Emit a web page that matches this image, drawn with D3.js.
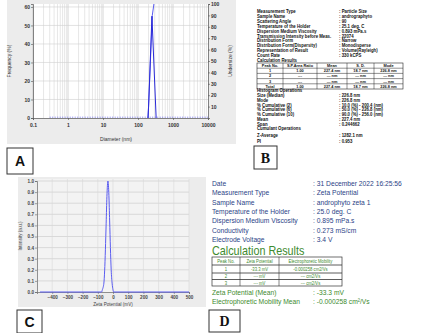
<!DOCTYPE html>
<html>
<head>
<meta charset="utf-8">
<script src="https://cdn.jsdelivr.net/npm/d3@7"></script>
<style>
  body { margin: 0; background: #fff; }
  svg { display: block; }
  text { font-family: "Liberation Sans", Arial, sans-serif; }
</style>
</head>
<body>
<script>
// ---- panel A : particle size distribution ----
var sizeTicks = [0.1, 1, 10, 100, 1000, 10000];
var sizeTickLabels = ["0.1", "1", "10", "100", "1000", "10000"];
var freqTicks = [0, 10, 20, 30, 40, 50, 60];
var underTicks = [10, 20, 30, 40, 50, 60, 70, 80, 90, 100];
var freqSize = [195, 250, 330];
var freqValue = [0, 55, 0];
var cumSize = [190, 200.4, 226.8, 256, 285];
var cumValue = [0, 10, 50, 90, 100];
var zeroBins = [0.3, 0.5, 1, 2, 5, 10, 20, 50, 100, 180, 400, 1000, 2000, 5000, 10000];

// ---- panel B : particle size report ----
var infoB = [
  ["Measurement Type", "Particle Size"],
  ["Sample Name", "andrographyto"],
  ["Scattering Angle", "90"],
  ["Temperature of the Holder", "25.1 deg. C"],
  ["Dispersion Medium Viscosity", "0.893 mPa.s"],
  ["Transmission Intensity before Meas.", "22074"],
  ["Distribution Form", "Narrow"],
  ["Distribution Form(Dispersity)", "Monodisperse"],
  ["Representation of Result", "Volume(Rayleigh)"],
  ["Count Rate", "330 kCPS"]
];
var tableBHead = ["Peak No.", "S.P.Area Ratio", "Mean", "S. D.", "Mode"];
var tableBRows = [
  ["1", "1.00", "227.4 nm", "18.7 nm", "226.8 nm"],
  ["2", "---", "--- nm", "--- nm", "--- nm"],
  ["3", "---", "--- nm", "--- nm", "--- nm"],
  ["Total", "1.00", "227.4 nm", "18.7 nm", "226.8 nm"]
];
var histB = [
  ["Size (Median)", "226.8 nm"],
  ["Mode", "226.8 nm"],
  ["% Cumulative (2)", "10.0 (%) - 200.4 (nm)"],
  ["% Cumulative (6)", "50.0 (%) - 226.8 (nm)"],
  ["% Cumulative (10)", "90.0 (%) - 256.0 (nm)"],
  ["Mean", "227.4 nm"],
  ["Span", "0.244662"]
];
var cumulantB = [
  ["Z-Average", "1282.1 nm"],
  ["PI", "0.953"]
];

// ---- panel C : zeta potential distribution ----
var zetaTicks = [-400, -300, -200, -100, 0, 100, 200, 300, 400, 500];
var intensityTicks = [0, 0.1, 0.2, 0.3, 0.4, 0.5, 0.6, 0.7, 0.8, 0.9, 1.0];
var zetaX = [-480, -75, -70, -60, -55, -50, -45, -40, -33.3, -27, -22, -17, -12, -6, 0, 5, 500];
var zetaY = [0, 0, 0.02, 0.08, 0.19, 0.38, 0.62, 0.86, 1.0, 0.87, 0.64, 0.40, 0.20, 0.08, 0.02, 0, 0];

// ---- panel D : zeta report ----
var infoD = [
  ["Date", "31 December 2022 16:25:56"],
  ["Measurement Type", "Zeta Potential"],
  ["Sample Name", "androphyto zeta 1"],
  ["Temperature of the Holder", "25.0 deg. C"],
  ["Dispersion Medium Viscosity", "0.895 mPa.s"],
  ["Conductivity", "0.273 mS/cm"],
  ["Electrode Voltage", "3.4 V"]
];
var tableDHead = ["Peak No.", "Zeta Potential", "Electrophoretic Mobility"];
var tableDRows = [
  ["1", "-33.3 mV", "-0.000258 cm2/Vs"],
  ["2", "--- mV", "--- cm2/Vs"],
  ["3", "--- mV", "--- cm2/Vs"]
];
var meanD = [
  ["Zeta Potential (Mean)", "-33.3 mV"],
  ["Electrophoretic Mobility Mean", "-0.000258 cm\u00b2/Vs"]
];

var W = 438, H = 333;
var svg = d3.select("body").append("svg").attr("width", W).attr("height", H);

var lineBlue = "#5a5cf0", darkBlue = "#2a2ad8";
var green = "#3d8a2e", navy = "#2b3f86";

// text squeezed horizontally (the report fonts are narrow)
function sqText(g, x, y, sx, fs, color, str, anchor) {
  return g.append("text").attr("transform", "translate(" + x + "," + y + ") scale(" + sx + ",1)")
    .attr("font-size", fs).attr("fill", color).attr("text-anchor", anchor || "start").text(str);
}

/////////////// panel A
svg.append("rect").attr("x", 7).attr("y", 0).attr("width", 229).attr("height", 144).attr("fill", "#ececec");

var xA = d3.scaleLog().domain([0.1, 10000]).range([33, 208]);
var yL = d3.scaleLinear().domain([0, 61.6]).range([118, 4]);
var yR = d3.scaleLinear().domain([0, 100]).range([118, 4]);

var gA = svg.append("g");
gA.append("rect").attr("x", 33).attr("y", 4).attr("width", 175).attr("height", 114).attr("fill", "#fff");

// minor and major vertical grid
var minorA = [];
for (var e = -1; e < 4; e++) {
  for (var m = 1; m < 10; m++) minorA.push(m * Math.pow(10, e));
}
gA.selectAll(".vgrid").data(minorA).enter().append("line")
  .attr("x1", function(d) { return xA(d); }).attr("x2", function(d) { return xA(d); })
  .attr("y1", 4).attr("y2", 118)
  .attr("stroke", function(d, i) { return i % 9 == 0 ? "#b8b8b8" : "#d6d6d6"; })
  .attr("stroke-width", 0.6);
gA.selectAll(".hgrid").data(freqTicks.slice(1)).enter().append("line")
  .attr("x1", 33).attr("x2", 208)
  .attr("y1", function(d) { return yL(d); }).attr("y2", function(d) { return yL(d); })
  .attr("stroke", "#d0d0d0").attr("stroke-width", 0.6);

// axes
var axL = d3.axisLeft(yL).tickValues(freqTicks).tickSize(2).tickPadding(1);
var axR = d3.axisRight(yR).tickValues(underTicks).tickSize(2).tickPadding(1);
var axB = d3.axisBottom(xA).tickValues(sizeTicks).tickSize(2).tickPadding(3)
  .tickFormat(function(d, i) { return sizeTickLabels[i]; });
[[axL, "translate(33,0)"], [axR, "translate(208,0)"], [axB, "translate(0,118)"]].forEach(function(p) {
  var g = gA.append("g").attr("transform", p[1]).call(p[0]);
  g.select(".domain").attr("stroke", "#555").attr("stroke-width", 0.7);
  g.selectAll(".tick line").attr("stroke", "#555").attr("stroke-width", 0.6);
  g.selectAll("text").attr("font-size", 5).attr("font-weight", "bold").attr("fill", "#333")
    .style("font-family", "Liberation Sans");
});

// lines
var lineA = d3.line().x(function(d) { return xA(d[0]); }).y(function(d) { return d[1]; });
gA.append("path")
  .attr("d", lineA(zeroBins.map(function(s) { return [s, yL(0) - 0.8]; })))
  .attr("fill", "none").attr("stroke", lineBlue).attr("stroke-width", 0.8).attr("stroke-dasharray", "1,1.5");
gA.append("path")
  .attr("d", lineA(cumSize.map(function(s, i) { return [s, yR(cumValue[i])]; })))
  .attr("fill", "none").attr("stroke", lineBlue).attr("stroke-width", 1);
gA.append("path")
  .attr("d", lineA(freqSize.map(function(s, i) { return [s, yL(freqValue[i])]; })))
  .attr("fill", "none").attr("stroke", darkBlue).attr("stroke-width", 1);

gA.append("text").attr("transform", "translate(11,61) rotate(-90)").attr("text-anchor", "middle")
  .attr("font-size", 5).attr("fill", "#333").text("Frequency (%)");
gA.append("text").attr("transform", "translate(232,61) rotate(-90)").attr("text-anchor", "middle")
  .attr("font-size", 5).attr("fill", "#333").text("Undersize (%)");
gA.append("text").attr("x", 116).attr("y", 141).attr("text-anchor", "middle")
  .attr("font-size", 5).attr("fill", "#333").text("Diameter (nm)");

/////////////// panel B
var gB = svg.append("g").style("font-weight", "bold");
var fsB = 4.9, sxB = 0.88, labX = 257, colX = 339;
function infoRows(g, rows, y0, step, fs, sx, lx, cx, color) {
  rows.forEach(function(r, i) {
    sqText(g, lx, y0 + i * step, sx, fs, color, r[0]);
    sqText(g, cx, y0 + i * step, sx, fs, color, ":  " + r[1]);
  });
}
infoRows(gB, infoB, 13, 4.9, fsB, sxB, labX, colX, "#111");
sqText(gB, labX, 62, sxB, fsB, "#111", "Calculation Results");

var colB = [257, 283, 317, 347, 374, 403];
var rowH = 5.2, tB0 = 63;
var tb = gB.append("g");
var allB = [tableBHead].concat(tableBRows);
tb.append("rect").attr("x", colB[0]).attr("y", tB0).attr("width", colB[5] - colB[0]).attr("height", rowH * allB.length)
  .attr("fill", "none").attr("stroke", "#222").attr("stroke-width", 0.6);
allB.forEach(function(r, i) {
  if (i > 0) tb.append("line").attr("x1", colB[0]).attr("x2", colB[5]).attr("y1", tB0 + i * rowH).attr("y2", tB0 + i * rowH)
    .attr("stroke", "#222").attr("stroke-width", 0.5);
  r.forEach(function(c, j) {
    sqText(tb, (colB[j] + colB[j + 1]) / 2, tB0 + i * rowH + 4, 0.9, 4.3, "#111", c, "middle");
  });
});
colB.slice(1, 5).forEach(function(x) {
  tb.append("line").attr("x1", x).attr("x2", x).attr("y1", tB0).attr("y2", tB0 + rowH * allB.length)
    .attr("stroke", "#222").attr("stroke-width", 0.5);
});
sqText(gB, labX, 92, sxB, fsB, "#111", "Histogram Operations");
infoRows(gB, histB, 97, 4.75, fsB, sxB, labX, colX, "#111");
sqText(gB, labX, 130, sxB, fsB, "#111", "Cumulant Operations");
infoRows(gB, cumulantB, 137, 5.5, fsB, sxB, labX, colX, "#111");

/////////////// panel C
svg.append("rect").attr("x", 18).attr("y", 177).attr("width", 188).attr("height", 130).attr("fill", "#ececec");
var xC = d3.scaleLinear().domain([-500, 500]).range([37, 189]);
var yC = d3.scaleLinear().domain([0, 1]).range([292, 181]);
var gC = svg.append("g");
gC.append("rect").attr("x", 37).attr("y", 179).attr("width", 152).attr("height", 113).attr("fill", "#f3f3f3");
gC.selectAll(".hg").data(intensityTicks.slice(1)).enter().append("line")
  .attr("x1", 37).attr("x2", 189).attr("y1", function(d) { return yC(d); }).attr("y2", function(d) { return yC(d); })
  .attr("stroke", "#d2d2d2").attr("stroke-width", 0.8);
gC.selectAll(".vg").data(zetaTicks).enter().append("line")
  .attr("y1", 179).attr("y2", 292).attr("x1", function(d) { return xC(d); }).attr("x2", function(d) { return xC(d); })
  .attr("stroke", "#d8d8d8").attr("stroke-width", 0.6);
var axCL = d3.axisLeft(yC).tickValues(intensityTicks).tickSize(2).tickPadding(1).tickFormat(d3.format(".1f"));
var axCB = d3.axisBottom(xC).tickValues(zetaTicks).tickSize(2).tickPadding(2);
[[axCL, "translate(37,0)"], [axCB, "translate(0,292)"]].forEach(function(p) {
  var g = gC.append("g").attr("transform", p[1]).call(p[0]);
  g.select(".domain").attr("stroke", "#666").attr("stroke-width", 0.7);
  g.selectAll(".tick line").attr("stroke", "#666").attr("stroke-width", 0.6);
  g.selectAll("text").attr("font-size", 4.6).attr("font-weight", "bold").attr("fill", "#444")
    .style("font-family", "Liberation Sans");
});
var lineC = d3.line().x(function(d) { return xC(d[0]); }).y(function(d) { return yC(d[1]); }).curve(d3.curveMonotoneX);
gC.append("path").attr("d", lineC(zetaX.map(function(x, i) { return [x, zetaY[i]]; })))
  .attr("fill", "none").attr("stroke", lineBlue).attr("stroke-width", 1);
gC.append("text").attr("transform", "translate(22,236) rotate(-90)").attr("text-anchor", "middle")
  .attr("font-size", 4.6).attr("fill", "#444").text("Intensity (a.u.)");
gC.append("text").attr("x", 113).attr("y", 306).attr("text-anchor", "middle")
  .attr("font-size", 4.6).attr("fill", "#444").text("Zeta Potential (mV)");

/////////////// panel D
var gD = svg.append("g");
var sxD = 0.84;
infoD.forEach(function(r, i) {
  var y = 186 + i * 9.3;
  sqText(gD, 212, y, sxD, 8, navy, r[0]);
  sqText(gD, 313, y, sxD, 8, navy, ":  " + r[1]);
});
sqText(gD, 212, 255, 0.9, 12, green, "Calculation Results");
var colD = [212, 240, 279, 342];
var rowD = [257, 265, 273, 279.5, 286];
var allD = [tableDHead].concat(tableDRows);
gD.append("rect").attr("x", colD[0]).attr("y", rowD[0]).attr("width", colD[3] - colD[0]).attr("height", rowD[4] - rowD[0])
  .attr("fill", "none").attr("stroke", "#333").attr("stroke-width", 0.7);
rowD.slice(1, 4).forEach(function(y) {
  gD.append("line").attr("x1", colD[0]).attr("x2", colD[3]).attr("y1", y).attr("y2", y).attr("stroke", "#333").attr("stroke-width", 0.8);
});
colD.slice(1, 3).forEach(function(x) {
  gD.append("line").attr("x1", x).attr("x2", x).attr("y1", rowD[0]).attr("y2", rowD[4]).attr("stroke", "#333").attr("stroke-width", 0.6);
});
allD.forEach(function(r, i) {
  r.forEach(function(c, j) {
    sqText(gD, (colD[j] + colD[j + 1]) / 2, (rowD[i] + rowD[i + 1]) / 2 + 1.8, 0.85, 5, green, c, "middle");
  });
});
meanD.forEach(function(r, i) {
  var y = 295 + i * 9.3;
  sqText(gD, 212, y, sxD, 8, green, r[0]);
  sqText(gD, 313, y, sxD, 8, green, ":  " + r[1]);
});

/////////////// panel labels
var labels = [
  { t: "A", x: 7, y: 148, w: 26, h: 26, serif: false },
  { t: "B", x: 254, y: 146, w: 23, h: 23, serif: true },
  { t: "C", x: 17, y: 310, w: 25, h: 23, serif: false },
  { t: "D", x: 209, y: 310, w: 31, h: 22, serif: true }
];
labels.forEach(function(l) {
  svg.append("rect").attr("x", l.x).attr("y", l.y).attr("width", l.w).attr("height", l.h)
    .attr("fill", "#fff").attr("stroke", "#333").attr("stroke-width", 1);
  svg.append("text").attr("x", l.x + l.w / 2).attr("y", l.y + l.h / 2 + 5).attr("text-anchor", "middle")
    .attr("font-size", 14).attr("font-weight", "bold").attr("fill", "#111")
    .style("font-family", l.serif ? "'Liberation Serif', serif" : "'Liberation Sans', sans-serif")
    .text(l.t);
});
</script>
</body>
</html>
